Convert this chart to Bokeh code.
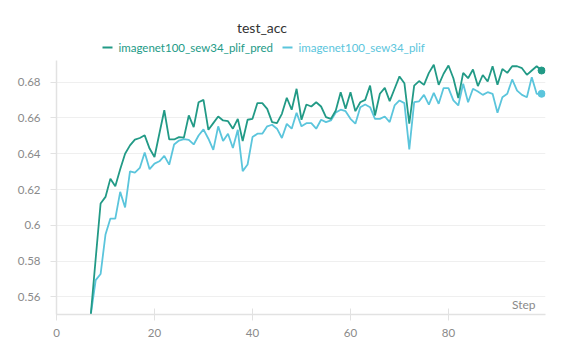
from bokeh.plotting import figure
from bokeh.layouts import column
from bokeh.models import Range1d, FixedTicker, Label
from bokeh.core.properties import value
from bokeh.embed import file_html
from bokeh.resources import INLINE

# ---------------- data ----------------
title_text = "test_acc"
x_label = "Step"
series_names = ["imagenet100_sew34_plif_pred", "imagenet100_sew34_plif"]

steps = list(range(7, 100))

pred = [
    0.5502, 0.5815, 0.6122, 0.6159, 0.6261, 0.6219, 0.6314, 0.6400, 0.6447, 0.6479,
    0.6488, 0.6503, 0.6429, 0.6382, 0.6513, 0.6643, 0.6480, 0.6480, 0.6493, 0.6490,
    0.6614, 0.6549, 0.6688, 0.6701, 0.6534, 0.6571, 0.6608, 0.6586, 0.6582, 0.6540,
    0.6595, 0.6471, 0.6590, 0.6595, 0.6683, 0.6683, 0.6651, 0.6577, 0.6571, 0.6623,
    0.6713, 0.6646, 0.6763, 0.6590, 0.6675, 0.6664, 0.6688, 0.6664, 0.6605, 0.6595,
    0.6642, 0.6744, 0.6651, 0.6744, 0.6638, 0.6688, 0.6701, 0.6781, 0.6614, 0.6735,
    0.6768, 0.6694, 0.6763, 0.6832, 0.6794, 0.6568, 0.6781, 0.6806, 0.6785, 0.6852,
    0.6897, 0.6785, 0.6847, 0.6893, 0.6822, 0.6711, 0.6852, 0.6822, 0.6871, 0.6778,
    0.6840, 0.6804, 0.6889, 0.6785, 0.6874, 0.6852, 0.6889, 0.6889, 0.6878, 0.6841,
    0.6865, 0.6889, 0.6865,
]

plif = [
    0.5502, 0.5694, 0.5728, 0.5949, 0.6038, 0.6038, 0.6187, 0.6100, 0.6302, 0.6295,
    0.6321, 0.6407, 0.6314, 0.6345, 0.6358, 0.6388, 0.6339, 0.6452, 0.6474, 0.6482,
    0.6478, 0.6452, 0.6502, 0.6536, 0.6484, 0.6422, 0.6553, 0.6471, 0.6512, 0.6432,
    0.6534, 0.6303, 0.6340, 0.6493, 0.6512, 0.6512, 0.6553, 0.6562, 0.6540, 0.6488,
    0.6567, 0.6540, 0.6629, 0.6553, 0.6571, 0.6571, 0.6540, 0.6590, 0.6577, 0.6586,
    0.6630, 0.6646, 0.6638, 0.6595, 0.6568, 0.6660, 0.6675, 0.6660, 0.6595, 0.6595,
    0.6608, 0.6577, 0.6670, 0.6698, 0.6683, 0.6424, 0.6688, 0.6693, 0.6729, 0.6674,
    0.6740, 0.6679, 0.6767, 0.6767, 0.6698, 0.6670, 0.6791, 0.6688, 0.6763, 0.6748,
    0.6729, 0.6744, 0.6735, 0.6629, 0.6716, 0.6735, 0.6815, 0.6753, 0.6729, 0.6716,
    0.6828, 0.6735, 0.6735,
]

x_ticks = [0, 20, 40, 60, 80]
y_ticks = [0.56, 0.58, 0.6, 0.62, 0.64, 0.66, 0.68]
y_tick_labels = ["0.56", "0.58", "0.6", "0.62", "0.64", "0.66", "0.68"]

# ---------------- styling ----------------
GREEN = "#229a86"
CYAN = "#5bc5dc"
TICK_GRAY = "#8a8a8a"
AXIS_GRAY = "#e2e2e2"
FONT = "Lato"
LEFT, RIGHT = 56, 29

# ---------- header (title + legend), frame aligned with the chart frame ----------
h = figure(width=574, height=60, output_backend="svg", toolbar_location=None,
           x_range=Range1d(LEFT, 574 - RIGHT), y_range=Range1d(0, 60),
           x_axis_type=None, y_axis_type=None,
           min_border_left=LEFT, min_border_right=RIGHT, min_border_top=0, min_border_bottom=0)
h.outline_line_color = None
h.grid.grid_line_color = None
h.text(x=[261.5], y=[33], text=[title_text], text_align="center", text_baseline="middle",
       text_font=value(FONT), text_font_size="14px", text_color="#333333")
h.segment(x0=[102, 282], x1=[112, 292], y0=[13, 13], y1=[13, 13],
          line_color=[GREEN, CYAN], line_width=2.2)
h.text(x=[118, 298], y=[13, 13], text=series_names, text_align="left", text_baseline="middle",
       text_font=value(FONT), text_font_size="11.5px", text_color=[GREEN, CYAN])

# ---------- main chart ----------
p = figure(
    width=574, height=299,
    output_backend="svg", toolbar_location=None,
    x_range=Range1d(0, 99.8), y_range=Range1d(0.5502, 0.6921),
    min_border_left=LEFT, min_border_right=RIGHT, min_border_top=0, min_border_bottom=45,
)
p.outline_line_color = None
p.background_fill_color = "white"
p.border_fill_color = "white"

p.line(steps, plif, line_color=CYAN, line_width=1.8)
p.line(steps, pred, line_color=GREEN, line_width=1.8)
p.scatter([steps[-1]], [plif[-1]], size=7, color=CYAN)
p.scatter([steps[-1]], [pred[-1]], size=7, color=GREEN)

p.xaxis.ticker = FixedTicker(ticks=x_ticks)
p.yaxis.ticker = FixedTicker(ticks=y_ticks)
p.yaxis.major_label_overrides = {t: l for t, l in zip(y_ticks, y_tick_labels)}
for ax in (p.xaxis, p.yaxis):
    ax.axis_line_color = AXIS_GRAY
    ax.axis_line_width = 1.5
    ax.major_tick_line_color = AXIS_GRAY
    ax.minor_tick_line_color = None
    ax.major_label_text_color = TICK_GRAY
    ax.major_label_text_font = FONT
    ax.major_label_text_font_size = "11.5px"
p.xaxis.major_tick_in = 6
p.xaxis.major_tick_out = 6
p.xaxis.major_label_standoff = 8
p.yaxis.major_tick_in = 0
p.yaxis.major_tick_out = 6
p.yaxis.major_label_standoff = 10

p.xgrid.grid_line_color = None
p.ygrid.grid_line_color = "#efefef"
p.ygrid.grid_line_width = 1

p.add_layout(Label(x=479, y=10, x_units="screen", y_units="screen", text=x_label,
                   text_align="right", text_baseline="middle", text_font=FONT,
                   text_font_size="12px", text_color=TICK_GRAY))

layout = column(h, p, spacing=0)
open("out.html", "w").write(file_html(layout, INLINE))
